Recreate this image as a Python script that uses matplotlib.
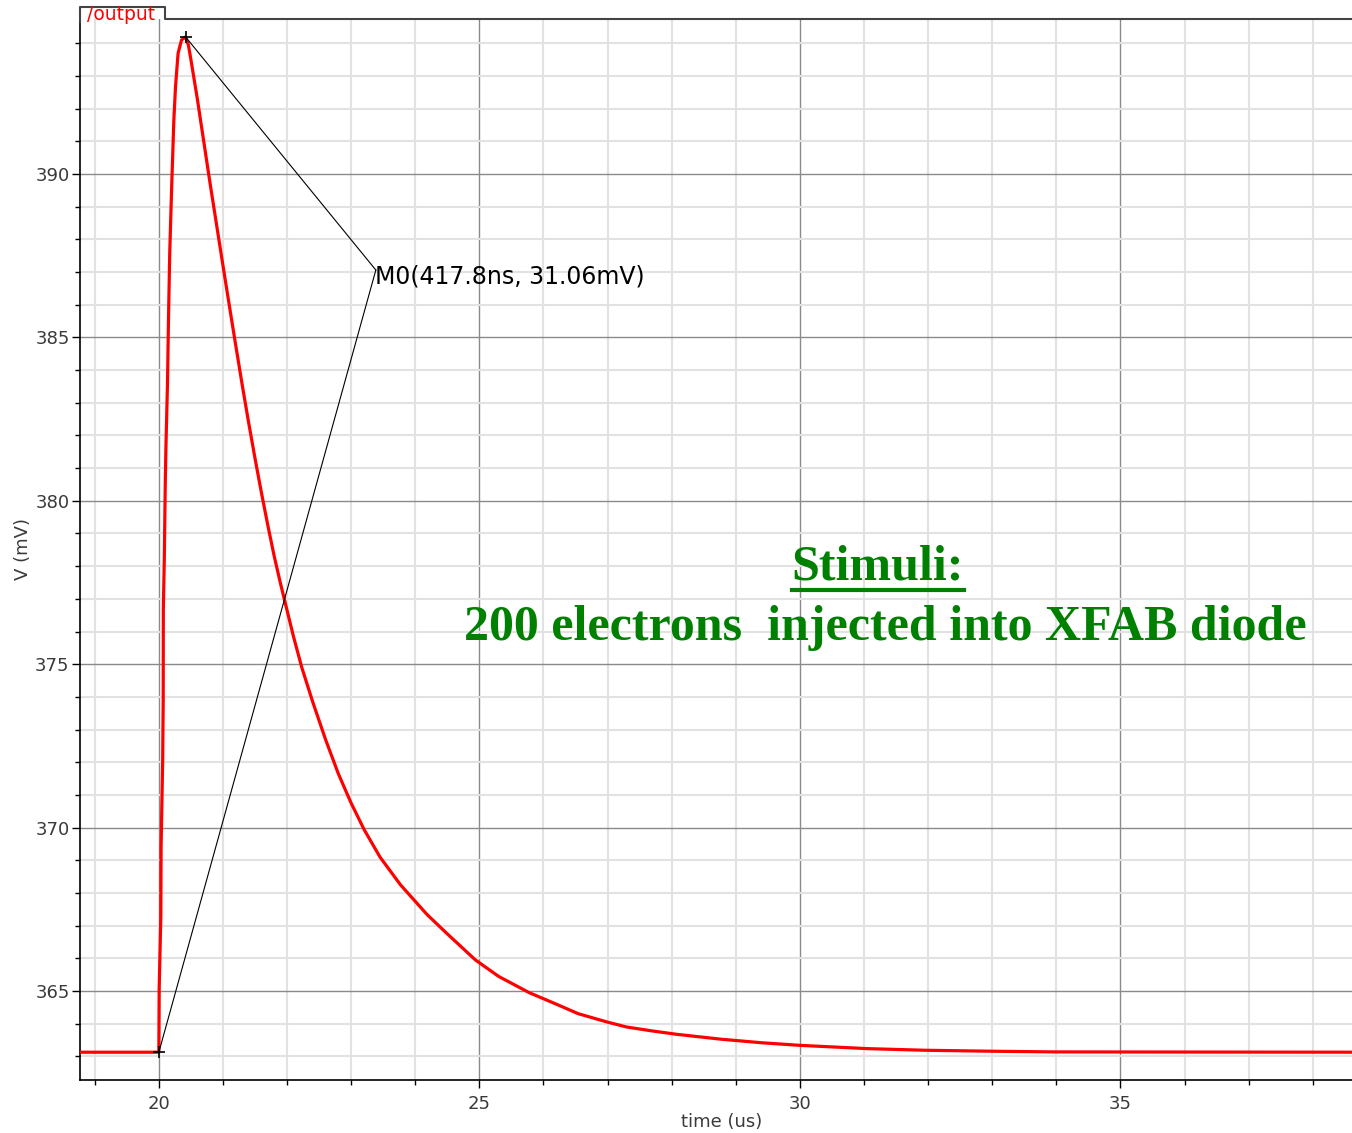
import matplotlib
matplotlib.use("Agg")
import matplotlib.pyplot as plt
from matplotlib.ticker import MultipleLocator
from matplotlib.lines import Line2D

# izlazni napon (mV) u ovisnosti o vremenu (us), ocitano sa slike
vrijeme_us = [18.7, 20.0, 20.005, 20.031, 20.035, 20.06, 20.068, 20.07, 20.085, 20.1, 20.11,
              20.135, 20.15, 20.17, 20.2, 20.234, 20.26, 20.30, 20.354, 20.416,
              20.46, 20.5, 20.55, 20.6, 20.7, 20.8, 20.9, 21.0, 21.13, 21.2,
              21.3, 21.4, 21.5, 21.6, 21.7, 21.8, 21.9, 22.0, 22.1, 22.23,
              22.4, 22.6, 22.8, 23.0, 23.2, 23.45, 23.77, 24.18, 24.5, 24.94,
              25.3, 25.78, 26.2, 26.54, 27.0, 27.3, 27.7, 28.07, 28.76, 29.4,
              30.0, 31.05, 31.95, 33.0, 33.96, 39.0]
napon_mv = [363.13, 363.13, 365.05, 367.3, 369.4, 372.1, 373.9, 376.7, 378.2, 380.5, 381.6,
            383.6, 385.5, 387.6, 389.6, 391.65, 392.67, 393.69, 394.10, 394.19,
            393.95, 393.5, 392.9, 392.3, 391.0, 389.7, 388.45, 387.2, 385.6, 384.75,
            383.55, 382.4, 381.3, 380.25, 379.25, 378.3, 377.45, 376.65, 375.85, 374.9,
            373.85, 372.7, 371.65, 370.75, 369.95, 369.1, 368.25, 367.35, 366.75, 365.95,
            365.45, 364.95, 364.6, 364.31, 364.05, 363.9, 363.78, 363.68, 363.53, 363.42,
            363.34, 363.24, 363.19, 363.16, 363.14, 363.13]

# marker M0: pocetna tocka, vrh i mjesto natpisa
marker_x = [20.0, 20.418]
marker_y = [363.13, 394.19]
natpis_xy = (23.385, 387.06)
natpis = "M0(417.8ns, 31.06mV)"

W, H = 1352, 1133
fig = plt.figure(figsize=(W / 100, H / 100), dpi=100)

def fx(px):
    return px / W

def fy(py):
    return 1 - py / H

# os ide malo preko desnog ruba slike
ax = fig.add_axes([fx(80), fy(1080), (1364 - 80) / W, (1080 - 19) / H])
ax.set_xlim(18.77, 38.80)
ax.set_ylim(362.28, 394.74)

ax.xaxis.set_major_locator(MultipleLocator(5))
ax.xaxis.set_minor_locator(MultipleLocator(1))
ax.yaxis.set_major_locator(MultipleLocator(5))
ax.yaxis.set_minor_locator(MultipleLocator(1))

ax.grid(which="minor", color="#e2e2e2", linewidth=1.5, zorder=0)
ax.grid(which="major", color="#8a8a8a", linewidth=1.0, zorder=0)
ax.set_axisbelow(True)

ax.spines["top"].set_visible(False)
ax.spines["right"].set_visible(False)
ax.spines["left"].set_linewidth(1.2)
ax.spines["bottom"].set_linewidth(1.2)

ax.tick_params(axis="both", which="major", length=6, width=1, direction="out",
               labelsize=13, labelcolor="#3a3a3a")
ax.tick_params(axis="both", which="minor", length=3.5, width=1, direction="out")
ax.tick_params(axis="x", which="major", pad=4.5)
ax.tick_params(axis="y", which="major", pad=1.5)

ax.set_xlabel("time (us)", fontsize=13, color="#3a3a3a", labelpad=0)
ax.set_ylabel("V (mV)", fontsize=13, color="#3a3a3a", labelpad=2)

# signal
ax.plot(vrijeme_us, napon_mv, color="#ff0000", linewidth=2.3, zorder=3, clip_on=True)

# linije markera do natpisa
for mx, my in zip(marker_x, marker_y):
    ax.plot([mx, natpis_xy[0]], [my, natpis_xy[1]], color="black", linewidth=0.8, zorder=4)
ax.plot(marker_x, marker_y, "+", color="black", markersize=9, markeredgewidth=1.2, zorder=5)
ax.text(natpis_xy[0] - 0.02, natpis_xy[1] - 0.2, natpis, fontsize=17, color="black",
        ha="left", va="center", zorder=5)

# "tab" s imenom signala na vrhu
tab = Line2D([fx(80), fx(80), fx(165), fx(165), fx(1352)],
             [fy(22), fy(7), fy(7), fy(19), fy(19)],
             transform=fig.transFigure, color="#444444", linewidth=1.5)
fig.add_artist(tab)
fig.text(fx(87), fy(20), "/output", fontsize=13.5, color="#ff0000", ha="left", va="baseline")

# tekst sa slajda
zelena = "#008000"
t1 = fig.text(fx(878), fy(567), "Stimuli:", fontsize=36, color=zelena, fontweight="bold",
              family="Liberation Serif", ha="center", va="center")
fig.text(fx(885), fy(628), "200 electrons  injected into XFAB diode", fontsize=36,
         color=zelena, fontweight="bold", family="Liberation Serif", ha="center", va="center")

# podcrtavanje za "Stimuli:"
fig.canvas.draw()
bb = t1.get_window_extent()
podcrta = Line2D([bb.x0 / W, bb.x1 / W], [fy(590), fy(590)], transform=fig.transFigure,
                 color=zelena, linewidth=3)
fig.add_artist(podcrta)

fig.savefig("out.png", dpi=100)
